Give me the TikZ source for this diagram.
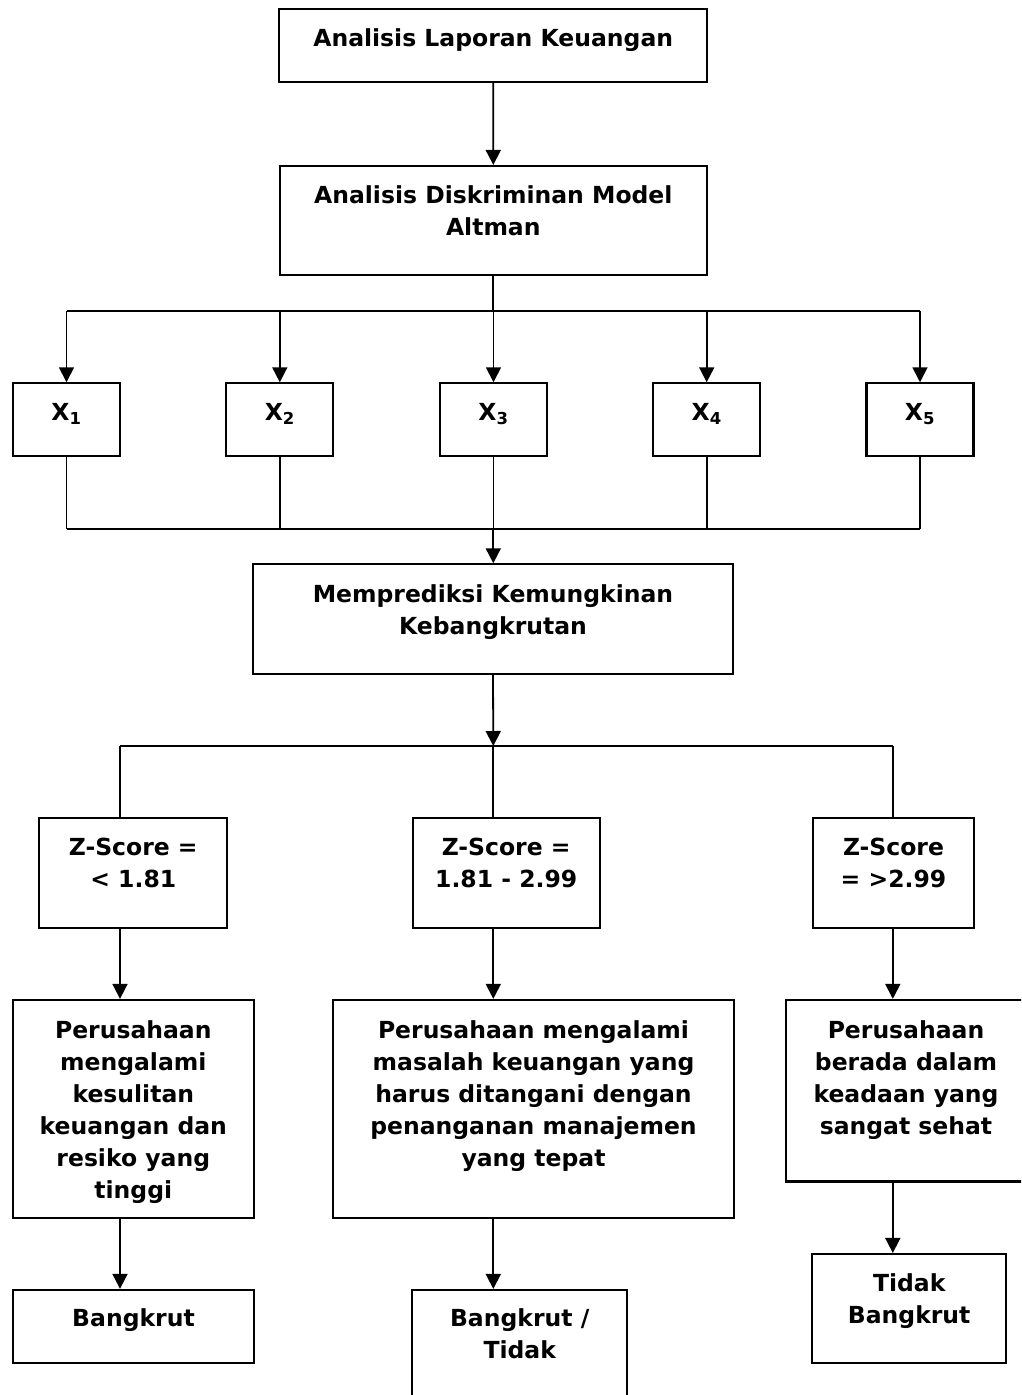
\documentclass[tikz,border=0pt]{standalone}
\usepackage{fontspec}
\setmainfont{DejaVu Sans}
\usetikzlibrary{arrows.meta,calc}

\begin{document}
\begin{tikzpicture}[x=1pt,y=-1pt,
  kotak/.style={draw,line width=2.2pt,inner sep=0pt},
  ukuran/.style 2 args={minimum width=#1pt,minimum height=#2pt},
  teks/.style={anchor=base,align=center,font=\bfseries\fontsize{23.5}{32}\selectfont},
  garis/.style={line width=1.8pt},
  panah/.style={line width=1.8pt,-{Triangle[length=15pt,width=15pt]}}]

\clip (0,0) rectangle (1021,1395);

\node[kotak,ukuran={427.7}{72.4}]  (lap)  at (493.2,45.5)   {};
\node[kotak,ukuran={427.3}{109.3}] (dis)  at (493.3,220.7)  {};
\node[kotak,ukuran={107}{72.7}]    (x1)   at (66.5,419.7)   {};
\node[kotak,ukuran={107}{72.7}]    (x2)   at (279.8,419.7)  {};
\node[kotak,ukuran={107}{72.7}]    (x3)   at (493.5,419.7)  {};
\node[kotak,ukuran={107}{72.7}]    (x4)   at (706.7,419.7)  {};
\node[kotak,ukuran={107}{72.7}]    (x5)   at (920,419.7)    {};
\node[kotak,ukuran={480.6}{109.7}] (pred) at (493,619.2)    {};
\node[kotak,ukuran={188}{109.7}]   (z1)   at (133.3,873.2)  {};
\node[kotak,ukuran={187}{109.7}]   (z2)   at (506.2,873.2)  {};
\node[kotak,ukuran={161}{109.7}]   (z3)   at (893.5,873.2)  {};
\node[kotak,ukuran={241.3}{217.7}] (p1)   at (133.3,1108.8) {};
\node[kotak,ukuran={401}{217.7}]   (p2)   at (533.5,1108.8) {};
\node[kotak,ukuran={240}{181.5}]   (p3)   at (906,1090.7)   {};
\node[kotak,ukuran={241}{72.7}]    (h1)   at (133.5,1326.3) {};
\node[kotak,ukuran={214.7}{130}]   (h2)   at (519.7,1355)   {};
\node[kotak,ukuran={193.7}{109.3}] (h3)   at (909.2,1308.7) {};

\coordinate (bus1) at (493.3,311);
\coordinate (bus2) at (493.3,528.7);
\coordinate (b1) at (120,746);
\coordinate (b2) at (493.3,746);
\coordinate (b3) at (892.8,746);

\draw[panah] (lap.south) -- (dis.north);
\draw[garis] (dis.south) -- (bus1);
\draw[garis] (x1.north |- bus1) -- (x5.north |- bus1);
\foreach \i in {1,...,5}
  \draw[panah] (x\i.north |- bus1) -- (x\i.north);
\foreach \i in {1,...,5}
  \draw[garis] (x\i.south) -- (x\i.south |- bus2);
\draw[garis] (x1.south |- bus2) -- (x5.south |- bus2);
\draw[panah] (bus2) -- (bus2 |- pred.north);
\draw[panah] (pred.south) -- (b2);
\draw[garis] (b1) -- (b3);
\foreach \i in {1,2,3}
  \draw[garis] (b\i) -- (b\i |- z\i.north);
\foreach \i in {1,2,3}
  \draw[panah] (b\i |- z\i.south) -- (b\i |- p\i.north);
\foreach \i in {1,2,3}
  \draw[panah] (b\i |- p\i.south) -- (b\i |- h\i.north);

\node[teks] (lap-t)  at (493.2,46.7)  {Analisis Laporan Keuangan};
\node[teks] (dis-t)  at (493.3,235)   {Analisis Diskriminan Model\\Altman};
\foreach \i in {1,...,5}
  \node[teks] (x\i-t) at ($(x\i.north)+(0,38.4)$) {X\textsubscript{\i}};
\node[teks] (pred-t) at (493,634.7)   {Memprediksi Kemungkinan\\Kebangkrutan};
\node[teks] (z1-t)   at (133.3,887)   {Z-Score =\\< 1.81};
\node[teks] (z2-t)   at (506.2,887)   {Z-Score =\\1.81 - 2.99};
\node[teks] (z3-t)   at (893.5,887)   {Z-Score\\= >2.99};
\node[teks] (p1-t)   at (133.3,1198)  {Perusahaan\\mengalami\\kesulitan\\keuangan dan\\resiko yang\\tinggi};
\node[teks] (p2-t)   at (533.5,1166)  {Perusahaan mengalami\\masalah keuangan yang\\harus ditangani dengan\\penanganan manajemen\\yang tepat};
\node[teks] (p3-t)   at (906,1134)    {Perusahaan\\berada dalam\\keadaan yang\\sangat sehat};
\node[teks] (h1-t)   at (133.5,1326.7) {Bangkrut};
\node[teks] (h2-t)   at (519.7,1358.7) {Bangkrut /\\Tidak};
\node[teks] (h3-t)   at (909.2,1323.7) {Tidak\\Bangkrut};

\end{tikzpicture}
\end{document}
